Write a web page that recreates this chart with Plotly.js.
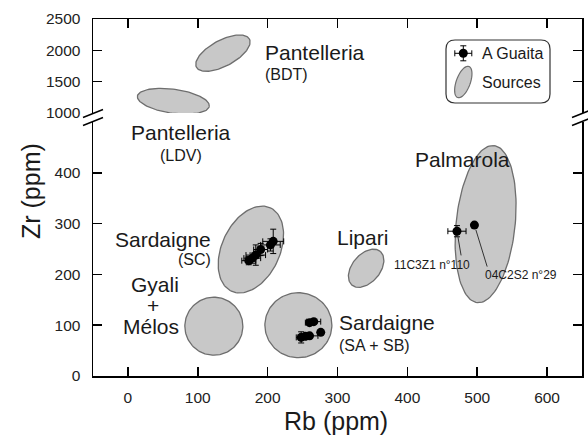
<!DOCTYPE html>
<html>
<head>
<meta charset="utf-8">
<script src="https://cdn.plot.ly/plotly-3.0.1.min.js"></script>
<style>html,body{margin:0;padding:0;background:#fff;}#chart{width:588px;height:437px;}</style>
</head>
<body>
<div id="chart"></div>
<script>
// ---------------- DATA ----------------
// Source fields (ellipses): centre in ppm, semi-axes in pixels, tilt in degrees
const sourceNames   = ['Pantelleria (BDT)', 'Pantelleria (LDV)', 'Sardaigne (SC)', 'Gyali + Mélos', 'Sardaigne (SA + SB)', 'Lipari', 'Palmarola'];
const sourceRb      = [136, 65, 176, 123, 244, 341, 512];
const sourceZr      = [1955, 1188, 249, 98, 100, 212, 299];
const sourceMajor   = [30, 36.3, 46, 29, 32.5, 22, 79];
const sourceMinor   = [13, 12, 29, 29, 33.5, 14, 29.5];
const sourceTilt    = [28, -8, 65, 0, 90, 50, 84];
const sourcePanel   = ['upper', 'upper', 'lower', 'lower', 'lower', 'lower', 'lower'];

// A Guaita artefacts
const guaitaRb    = [173, 178, 183, 190, 204, 208, 248, 254, 260, 260, 266, 276, 471, 496];
const guaitaZr    = [227, 232, 238, 249, 258, 265, 76, 78, 79, 105, 107, 86, 285, 297];
const guaitaErrRb = [10, 12, 14, 10, 14, 15, 7, 8, 12, 6, 10, 0, 13, 0];
const guaitaErrZr = [8, 10, 20, 12, 12, 24, 11, 5, 4, 4, 4, 0, 11, 0];

const labelledNames = ['11C3Z1 n°110', '04C2S2 n°29'];
const labelledRb    = [471, 496];
const labelledZr    = [285, 297];

const xTicks      = [0, 100, 200, 300, 400, 500, 600];
const yLowTicks   = [0, 100, 200, 300, 400];
const yHighTicks  = [1000, 1500, 2000, 2500];

// ---------------- LAYOUT GEOMETRY ----------------
const W = 588, H = 437, ML = 93, MR = 6, MT = 19, MB = 61;
const PW = W - ML - MR, PH = H - MT - MB;
const lowDom = [0, 0.7115], highDom = [0.7367, 1];
const xRange = [-50, 650], yLowRange = [0, 500], yHighRange = [1000, 2500];
const fx = px => (px - ML) / PW;
const fy = py => (H - MB - py) / PH;

const sx = PW / (xRange[1] - xRange[0]);
const syLow = (lowDom[1] - lowDom[0]) * PH / (yLowRange[1] - yLowRange[0]);
const syHigh = (highDom[1] - highDom[0]) * PH / (yHighRange[1] - yHighRange[0]);

const FONT = 'Liberation Sans, Arial, Helvetica, sans-serif';
const TXT = '#1a1a1a';

function ellipsePts(cx, cy, a, b, tiltDeg, kx, ky) {
  const xs = [], ys = [];
  const th = tiltDeg * Math.PI / 180;
  for (let i = 0; i <= 120; i++) {
    const t = 2 * Math.PI * i / 120;
    const u = a * Math.cos(t), v = b * Math.sin(t);
    const dx = u * Math.cos(th) - v * Math.sin(th);
    const dy = u * Math.sin(th) + v * Math.cos(th);
    xs.push(cx + dx / kx);
    ys.push(cy + dy / ky);
  }
  return [xs, ys];
}

const traces = [];
sourceNames.forEach((n, i) => {
  const up = sourcePanel[i] === 'upper';
  const [xs, ys] = ellipsePts(sourceRb[i], sourceZr[i], sourceMajor[i], sourceMinor[i], sourceTilt[i], sx, up ? syHigh : syLow);
  traces.push({
    type: 'scatter', mode: 'lines', name: n, x: xs, y: ys,
    xaxis: up ? 'x2' : 'x', yaxis: up ? 'y2' : 'y',
    fill: 'toself', fillcolor: '#c8c8c8',
    line: {color: '#6e6e6e', width: 1.3}, hoverinfo: 'skip', showlegend: false
  });
});

traces.push({
  type: 'scatter', mode: 'markers', name: 'A Guaita',
  x: guaitaRb, y: guaitaZr, xaxis: 'x', yaxis: 'y',
  marker: {color: '#000', size: 9},
  error_x: {type: 'data', array: guaitaErrRb, visible: true, color: '#000', thickness: 1, width: 3},
  error_y: {type: 'data', array: guaitaErrZr, visible: true, color: '#000', thickness: 1, width: 3},
  showlegend: false
});

// ---------------- SHAPES ----------------
const shapes = [];
function pline(x0, y0, x1, y1, w) {
  shapes.push({type: 'line', xref: 'paper', yref: 'paper', x0: fx(x0), y0: fy(y0), x1: fx(x1), y1: fy(y1),
    line: {color: '#000', width: w || 1.5}});
}
// axis break marks
[ML, W - MR].forEach(bx => {
  [113.5, 121.5].forEach(by => pline(bx - 10, by + 4, bx + 10, by - 4, 1.5));
});

// legend box (rounded)
(function () {
  const x0 = 446, x1 = 550, y0 = 40, y1 = 103, r = 9;
  const P = (px, py) => fx(px) + ',' + fy(py);
  const d = 'M' + P(x0 + r, y0) + ' L' + P(x1 - r, y0) + ' Q' + P(x1, y0) + ' ' + P(x1, y0 + r) +
    ' L' + P(x1, y1 - r) + ' Q' + P(x1, y1) + ' ' + P(x1 - r, y1) +
    ' L' + P(x0 + r, y1) + ' Q' + P(x0, y1) + ' ' + P(x0, y1 - r) +
    ' L' + P(x0, y0 + r) + ' Q' + P(x0, y0) + ' ' + P(x0 + r, y0) + ' Z';
  shapes.push({type: 'path', xref: 'paper', yref: 'paper', path: d, fillcolor: '#fff', line: {color: '#333', width: 1.2}, layer: 'above'});
  // marker icon with error bars
  const mx = 463.3, my = 53.3;
  pline(mx - 8.5, my, mx + 8.5, my, 1);
  pline(mx, my - 7.5, mx, my + 7.5, 1);
  pline(mx - 8.5, my - 3, mx - 8.5, my + 3, 1);
  pline(mx + 8.5, my - 3, mx + 8.5, my + 3, 1);
  pline(mx - 3, my - 7.5, mx + 3, my - 7.5, 1);
  pline(mx - 3, my + 7.5, mx + 3, my + 7.5, 1);
  shapes.push({type: 'circle', xref: 'paper', yref: 'paper', x0: fx(mx - 4.5), x1: fx(mx + 4.5), y0: fy(my + 4.5), y1: fy(my - 4.5),
    fillcolor: '#000', line: {color: '#000', width: 0}});
  // ellipse icon
  const ex = 463.3, ey = 82, a = 16.5, b = 7, th = 70 * Math.PI / 180;
  let pd = '';
  for (let i = 0; i <= 60; i++) {
    const t = 2 * Math.PI * i / 60;
    const u = a * Math.cos(t), v = b * Math.sin(t);
    const px = ex + u * Math.cos(th) - v * Math.sin(th);
    const py = ey - (u * Math.sin(th) + v * Math.cos(th));
    pd += (i === 0 ? 'M' : ' L') + fx(px) + ',' + fy(py);
  }
  pd += ' Z';
  shapes.push({type: 'path', xref: 'paper', yref: 'paper', path: pd, fillcolor: '#c8c8c8', line: {color: '#6e6e6e', width: 1.2}, layer: 'above'});
})();

// ---------------- ANNOTATIONS ----------------
const annotations = [];
function label(text, px, py, size, anchor) {
  annotations.push({text: text, xref: 'paper', yref: 'paper', x: fx(px), y: fy(py), xanchor: anchor || 'center', yanchor: 'middle',
    showarrow: false, font: {family: FONT, size: size, color: TXT}});
}
label('Pantelleria', 263, 52, 21, 'left');
label('(BDT)', 263, 74, 16, 'left');
label('Pantelleria', 181, 132, 21);
label('(LDV)', 181, 155, 16);
label('Palmarola', 462, 159, 21);
label('Sardaigne', 213, 239, 21, 'right');
label('(SC)', 213, 259, 16, 'right');
label('Lipari', 362, 237, 21);
label('Gyali', 155, 284, 21);
label('+', 153, 305, 21);
label('Mélos', 151, 326, 21);
label('Sardaigne', 337, 322, 21, 'left');
label('(SA + SB)', 337, 345, 16, 'left');
label(labelledNames[0], 472, 265, 12, 'right');
label(labelledNames[1], 483, 275, 12, 'left');
label('A Guaita', 480, 53.5, 16, 'left');
label('Sources', 480, 82, 16, 'left');
// axis titles
label('Rb (ppm)', 336, 421, 25);
annotations.push({text: 'Zr (ppm)', xref: 'paper', yref: 'paper', x: fx(31), y: fy(191), xanchor: 'center', yanchor: 'middle',
  textangle: -90, showarrow: false, font: {family: FONT, size: 25, color: TXT}});
// leader lines to labelled points
const leaderOff = [[4.4, 25.7], [13.2, 43]];
labelledNames.forEach((n, i) => {
  annotations.push({text: '', x: labelledRb[i], y: labelledZr[i], xref: 'x', yref: 'y', showarrow: true, arrowhead: 0,
    ax: leaderOff[i][0], ay: leaderOff[i][1], arrowwidth: 1, arrowcolor: '#333', standoff: 5});
});

// ---------------- AXES ----------------
const common = {
  showline: true, linecolor: '#000', linewidth: 1.5, ticks: 'inside', ticklen: 9, tickwidth: 1.5, tickcolor: '#000',
  showgrid: false, zeroline: false, tickfont: {family: FONT, size: 15.5, color: '#222'}, fixedrange: true
};
const layout = {
  width: W, height: H, margin: {l: ML, r: MR, t: MT, b: MB},
  paper_bgcolor: '#fff', plot_bgcolor: '#fff', showlegend: false,
  xaxis: Object.assign({}, common, {domain: [0, 1], range: xRange, tickvals: xTicks, anchor: 'y', mirror: false, ticklabelstandoff: 7}),
  xaxis2: Object.assign({}, common, {domain: [0, 1], range: xRange, tickvals: xTicks, anchor: 'y2', matches: 'x', side: 'top', showticklabels: false, mirror: false}),
  yaxis: Object.assign({}, common, {domain: lowDom, range: yLowRange, tickvals: yLowTicks, anchor: 'x', mirror: 'allticks', ticklabelstandoff: 8}),
  yaxis2: Object.assign({}, common, {domain: highDom, range: yHighRange, tickvals: yHighTicks, anchor: 'x2', mirror: 'allticks', ticklabelstandoff: 8}),
  shapes: shapes, annotations: annotations
};

Plotly.newPlot('chart', traces, layout, {displayModeBar: false, staticPlot: true});
</script>
</body>
</html>
